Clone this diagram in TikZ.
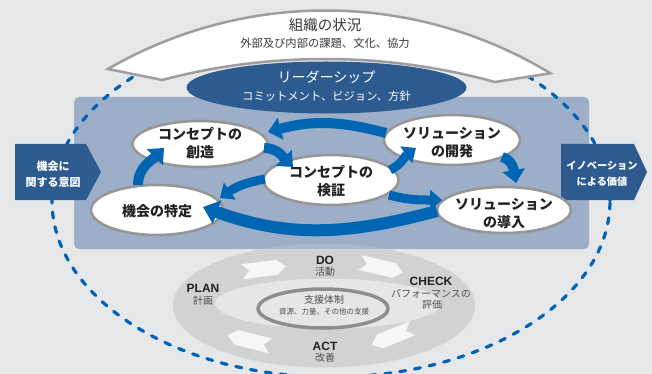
\documentclass[tikz,border=0pt]{standalone}
\usepackage{fontspec}
\newfontfamily\jp{Noto Sans CJK JP}
\newfontfamily\lat{Liberation Sans}
\usetikzlibrary{shapes.geometric,arrows.meta,calc}
\definecolor{bgc}{RGB}{230,231,233}
\definecolor{rectc}{RGB}{157,175,200}
\definecolor{darkblue}{RGB}{45,91,144}
\definecolor{arrowblue}{RGB}{0,101,178}
\definecolor{dashblue}{RGB}{0,98,180}
\definecolor{bandgray}{RGB}{158,158,160}
\definecolor{ringc}{RGB}{209,210,212}
\definecolor{ringin}{RGB}{229,230,232}
\definecolor{bubgray}{RGB}{150,150,150}
\definecolor{txtdark}{RGB}{34,34,34}
\definecolor{txtgray}{RGB}{80,80,80}
\definecolor{chevwhite}{RGB}{246,246,246}
\newcommand\pdcachev[3]{\fill[chevwhite, shift={(#1,#2)}, rotate=#3] (-22,7.5) -- (-15,0) -- (-22,-7.5) -- (13,-7.5) -- (22,0) -- (13,7.5) -- cycle;}
\begin{document}
\begin{tikzpicture}[x=1pt,y=1pt,
  bubble/.style={ellipse, draw=bubgray, line width=2.6pt, fill=white, inner sep=0pt},
  btext/.style={font=\jp\bfseries\fontsize{14}{18}\selectfont, align=center, text=txtdark, inner sep=0pt},
  sidetext/.style={font=\jp\bfseries\fontsize{11}{16}\selectfont, align=center, text=white, inner sep=0pt},
  pdcalab/.style={font=\lat\bfseries\fontsize{12}{14}\selectfont, text=txtdark, inner sep=0pt},
  pdcajp/.style={font=\jp\fontsize{10}{12}\selectfont, text=txtgray, inner sep=0pt},
  flow/.style={draw=arrowblue, line width=10pt, -{Triangle[length=13pt,width=22pt]}},
  thinflow/.style={draw=arrowblue, line width=9pt, -{Triangle[length=12pt,width=20pt]}},
  dashring/.style={draw=dashblue, line width=3.2pt, line cap=round, dash pattern=on 6pt off 9pt}
]
\useasboundingbox (0,0) rectangle (652,-374);
\fill[bgc] (0,0) rectangle (652,-374);

% PDCA ring (behind the panel)
\fill[ringc] (324,-305.5) ellipse[x radius=151, y radius=62];
% main panel
\fill[rectc, rounded corners=5pt] (74,-97) rectangle (589,-249);
\begin{scope}
  \clip (74,-97) rectangle (589,-249);
  \fill[white, opacity=0.12] (324,-305.5) ellipse[x radius=151, y radius=62];
\end{scope}
\fill[ringin] (328,-303.7) ellipse[x radius=113, y radius=25];
\pdcachev{264}{-269}{7}
\pdcachev{381.5}{-267.5}{-13}
\pdcachev{392}{-336.5}{202}
\pdcachev{249}{-340.5}{166}
\node[ellipse, draw=bubgray!95!black, line width=3.5pt, fill=ringin, minimum width=130pt, minimum height=39pt, inner sep=0pt] (support) at (323,-308.5) {};
\node[font=\jp\fontsize{10}{12}\selectfont, text=txtgray, inner sep=0pt] (support-t) at (324,-299.5) {支援体制};
\node[font=\jp\fontsize{7.5}{9}\selectfont, text=txtgray, inner sep=0pt] (support-s) at (324,-311.5) {資源、力量、その他の支援};
\node[pdcalab] (do) at (325,-260) {DO};
\node[pdcajp] (do-j) at (325,-271.5) {活動};
\node[pdcalab] (check) at (431,-281) {CHECK};
\node[pdcajp] (check-j1) at (431,-293.3) {パフォーマンスの};
\node[pdcajp] (check-j2) at (432,-304.5) {評価};
\node[pdcalab] (plan) at (203,-288.7) {PLAN};
\node[pdcajp] (plan-j) at (203,-300.5) {計画};
\node[pdcalab] (act) at (325,-346) {ACT};
\node[pdcajp] (act-j) at (325,-358) {改善};

% dashed boundary
\draw[dashring] (331,-201) ellipse[x radius=279, y radius=176];

% context band
\filldraw[fill=white, draw=bandgray, line width=2.5pt, line join=miter]
  (108,-69) arc[start angle=120.1, end angle=58.8, radius=433.9]
  -- (495,-82) arc[start angle=74.6, end angle=104.7, radius=641] -- cycle;
\node[font=\jp\fontsize{14.5}{16}\selectfont, text=txtdark!90!white, inner sep=0pt] (ctx) at (325,-25) {組織の状況};
\node[font=\jp\fontsize{11.3}{13}\selectfont, text=txtdark!90!white, inner sep=0pt] (ctx-s) at (325,-43) {外部及び内部の課題、文化、協力};

% leadership
\node[ellipse, fill=darkblue, minimum width=280pt, minimum height=52pt, inner sep=0pt] (lead) at (326.5,-87.5) {};
\node[font=\jp\fontsize{14}{16}\selectfont, text=white, inner sep=0pt] (lead-t) at (326.5,-77) {リーダーシップ};
\node[font=\jp\fontsize{11.3}{13}\selectfont, text=white, inner sep=0pt] (lead-s) at (326.5,-96) {コミットメント、ビジョン、方針};

% side arrows
\fill[darkblue] (15,-144) -- (86,-144) -- (101,-172) -- (86,-200) -- (15,-200) -- cycle;
\node[sidetext] (intent) at (53,-174) {機会に\\関する意図};
\fill[darkblue] (561,-144) -- (634,-144) -- (647,-172) -- (634,-200) -- (561,-200) -- cycle;
\node[sidetext, font=\jp\bfseries\fontsize{10.2}{16}\selectfont] (value) at (602,-174) {イノベーション\\による価値};

% bubbles
\node[bubble, minimum width=135pt, minimum height=46pt] (crea) at (200,-144) {};
\node[bubble, minimum width=132pt, minimum height=50pt] (iden) at (157,-210) {};
\node[bubble, minimum width=135pt, minimum height=50pt] (veri) at (331,-180) {};
\node[bubble, minimum width=136pt, minimum height=50pt] (dev) at (452,-140) {};
\node[bubble, minimum width=134pt, minimum height=46pt] (intro) at (504,-210) {};

% flow arrows
\draw[flow] ($(dev)+(-66,7)$) to[out=165,in=15] ($(crea)+(68,12)$);
\draw[flow] ($(crea)+(64,-4)$) to[out=0,in=135] ($(veri)+(-38,13)$);
\draw[thinflow] ($(veri)+(-66,1)$) to[out=190,in=35] ($(iden)+(63,12)$);
\draw[draw=arrowblue, line width=12pt, -{Triangle[length=15pt,width=24pt]}] ($(intro)+(-67,-1)$) to[out=195,in=-20] ($(iden)+(46,3)$);
\draw[thinflow] ($(veri)+(58,-15)$) to[out=-15,in=180] ($(intro)+(-62,10)$);
\draw[thinflow] ($(veri)+(59,10)$) to[out=25,in=215] ($(dev)+(-36,-8)$);
\draw[flow] ($(dev)+(50,-17)$) to[out=-15,in=100] ($(intro)+(12,27)$);
\draw[flow] ($(iden)+(-19,25)$) to[out=90,in=225] ($(crea)+(-36,-4)$);

% bubble texts
\node[btext] (crea-t) at (200,-143) {コンセプトの\\創造};
\node[btext] (iden-t) at (157,-211) {機会の特定};
\node[btext] (veri-t) at (331,-181.5) {コンセプトの\\検証};
\node[btext] (dev-t) at (452,-142.5) {ソリューション\\の開発};
\node[btext] (intro-t) at (504,-213.5) {ソリューション\\の導入};
\end{tikzpicture}
\end{document}
